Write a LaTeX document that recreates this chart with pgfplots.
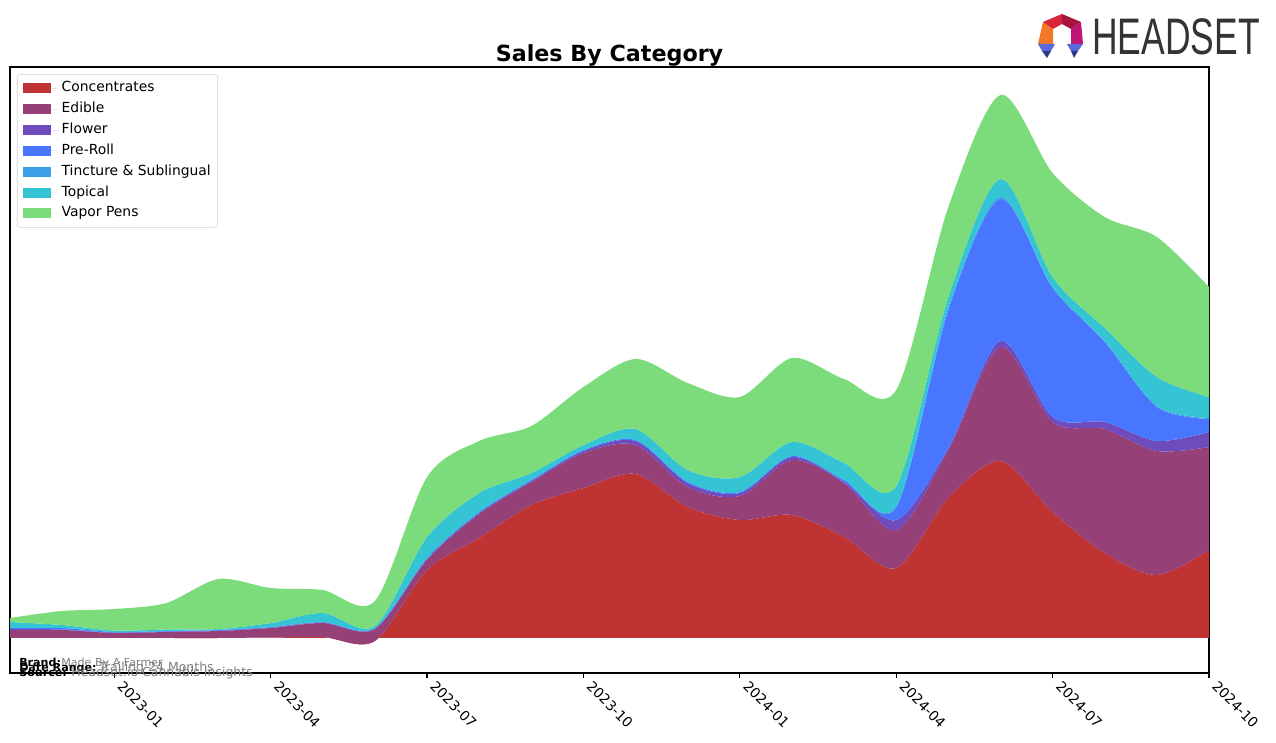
\documentclass[border=0pt]{standalone}
\usepackage{fontspec}
\setmainfont{DejaVu Sans}
\newfontfamily\logofont{Liberation Sans}
\usepackage{pgfplots}
\usepackage{pgfplotstable}
\pgfplotsset{compat=1.18}
\usepgfplotslibrary{fillbetween}

\definecolor{cConc}{RGB}{192,51,51}
\definecolor{cEdible}{RGB}{150,64,120}
\definecolor{cFlower}{RGB}{111,76,190}
\definecolor{cPreroll}{RGB}{72,118,255}
\definecolor{cTinct}{RGB}{60,160,232}
\definecolor{cTopical}{RGB}{52,196,212}
\definecolor{cVapor}{RGB}{124,220,124}
\definecolor{logogray}{RGB}{51,51,51}
\definecolor{lgA}{RGB}{240,120,40}
\definecolor{lgB}{RGB}{217,38,59}
\definecolor{lgC}{RGB}{165,22,58}
\definecolor{lgD}{RGB}{190,22,120}
\definecolor{lgE}{RGB}{90,105,220}
\definecolor{lgF}{RGB}{45,55,140}

\pgfplotsset{
  patchlegend/.style={legend image code/.code={%
    \fill[fill=#1, draw=none, sharp corners] (1.5pt,-3.6pt) rectangle (21pt,3.6pt);
    \path (0pt,0pt) -- (27pt,0pt);}},
}

% month index 0 = 2022-11 ... 23 = 2024-10
\pgfplotstableread{
i  conc  edible flower preroll tinct topical vapor
0  0     8      1      1       0     6       4
1  0     8      0.5    1.5     0     3       14
2  0     5      0.5    0.5     0     1.5     21.5
3  0     6      0.5    0.5     0     1.5     26.5
4  0     7      0.5    0.5     0     1       50
5  0.5   9.5    0.5    0.5     0     4       35
6  1     14     0.5    0.5     0     9       23
7  -3    12     0.5    0.5     0     2       25
8  68    10     1      1       0     21      60
9  100   24     1      1       0     19      52
10 133   23     1      1       0     7       47
11 150   35     2      1       0     5       58
12 164   29     4      1       0     11      70
13 131   20     4      1       0     12      87
14 118   24     3      1       0     15      80
15 123   55     3      1       0     14      84
16 101   54     1      2       0     17      84
17 70    38     10     13      1     20      96
18 140   48     2      138     3     10      90
19 177   114    6      142     2     18      84
20 126   90     5      129     1     10      104
21 85    124    7      80      1     13      111
22 63    124    10     34      1     29      140
23 88    103    15     13      1     21      110
}\salesdata

\begin{document}
\begin{tikzpicture}
\begin{axis}[
  at={(7.2pt,50.4pt)}, anchor=south west,
  scale only axis, width=863.28pt, height=436.32pt,
  xmin=0, xmax=23, ymin=-35, ymax=571,
  axis line style={line width=0.8pt},
  xtick={2,5,8,11,14,17,20,23},
  xticklabels={2023-01,2023-04,2023-07,2023-10,2024-01,2024-04,2024-07,2024-10},
  ytick=\empty,
  xtick pos=left,
  xtick align=outside,
  major tick length=3.5pt,
  tick style={black, line width=0.8pt},
  xticklabel style={xshift=7pt, rotate=-45, anchor=north west, font=\fontsize{10}{12}\selectfont, inner sep=1pt},
  title={Sales By Category},
  title style={at={(0.5,1)}, anchor=base, yshift=-2pt, font=\fontsize{16}{19}\selectfont\bfseries},
  legend cell align=left,
  legend style={at={(0.0058,0.988)}, anchor=north west, draw=black!18, rounded corners=2pt,
    font=\fontsize{10}{12}\selectfont, row sep=0pt, inner xsep=3pt, inner ysep=2.5pt,
    nodes={inner sep=2pt, text height=8pt, text depth=3pt}},
]
\addplot[draw=none, forget plot, name path=base] coordinates {(0,0) (23,0)};
\addplot[draw=none, forget plot, smooth, name path=l1] table[x=i, y=conc] {\salesdata};
\addplot[draw=none, forget plot, smooth, name path=l2] table[x=i, y expr=\thisrow{conc}+\thisrow{edible}] {\salesdata};
\addplot[draw=none, forget plot, smooth, name path=l3] table[x=i, y expr=\thisrow{conc}+\thisrow{edible}+\thisrow{flower}] {\salesdata};
\addplot[draw=none, forget plot, smooth, name path=l4] table[x=i, y expr=\thisrow{conc}+\thisrow{edible}+\thisrow{flower}+\thisrow{preroll}] {\salesdata};
\addplot[draw=none, forget plot, smooth, name path=l5] table[x=i, y expr=\thisrow{conc}+\thisrow{edible}+\thisrow{flower}+\thisrow{preroll}+\thisrow{tinct}] {\salesdata};
\addplot[draw=none, forget plot, smooth, name path=l6] table[x=i, y expr=\thisrow{conc}+\thisrow{edible}+\thisrow{flower}+\thisrow{preroll}+\thisrow{tinct}+\thisrow{topical}] {\salesdata};
\addplot[draw=none, forget plot, smooth, name path=l7] table[x=i, y expr=\thisrow{conc}+\thisrow{edible}+\thisrow{flower}+\thisrow{preroll}+\thisrow{tinct}+\thisrow{topical}+\thisrow{vapor}] {\salesdata};

\addplot[fill=cConc, draw=none, patchlegend=cConc] fill between[of=base and l1];
\addlegendentry{Concentrates}
\addplot[fill=cEdible, draw=none, patchlegend=cEdible] fill between[of=l1 and l2];
\addlegendentry{Edible}
\addplot[fill=cFlower, draw=none, patchlegend=cFlower] fill between[of=l2 and l3];
\addlegendentry{Flower}
\addplot[fill=cPreroll, draw=none, patchlegend=cPreroll] fill between[of=l3 and l4];
\addlegendentry{Pre-Roll}
\addplot[fill=cTinct, draw=none, patchlegend=cTinct] fill between[of=l4 and l5];
\addlegendentry{Tincture \& Sublingual}
\addplot[fill=cTopical, draw=none, patchlegend=cTopical] fill between[of=l5 and l6];
\addlegendentry{Topical}
\addplot[fill=cVapor, draw=none, patchlegend=cVapor] fill between[of=l6 and l7];
\addlegendentry{Vapor Pens}
\end{axis}

\begin{scope}[yshift=534.96pt, x=0.72pt, y=-0.72pt]
  % footer text
  \node[anchor=base west, inner sep=0, font=\fontsize{8}{9}\selectfont\bfseries] at (19,667) {Brand:};
  \node[anchor=base west, inner sep=0, font=\fontsize{8}{9}\selectfont, text=black!50] at (61,667) {Made By A Farmer};
  \node[anchor=base west, inner sep=0, font=\fontsize{8}{9}\selectfont\bfseries] at (19,672) {Date Range:};
  \node[anchor=base west, inner sep=0, font=\fontsize{9}{10}\selectfont, text=black!50] at (99,672) {Trailing 24 Months};
  \node[anchor=base west, inner sep=0, font=\fontsize{8}{9}\selectfont\bfseries] at (19,677) {Source:};
  \node[anchor=base west, inner sep=0, font=\fontsize{9}{10}\selectfont, text=black!50] at (71,677) {Headset.io Cannabis Insights};
  % logo
  \fill[lgA] (1038,44) -- (1043,22) -- (1053,29) -- (1053,44) -- cycle;
  \fill[lgB] (1043,22) -- (1062,14) -- (1062,24) -- (1053,29) -- cycle;
  \fill[lgC] (1062,14) -- (1081,22) -- (1071,29) -- (1062,24) -- cycle;
  \fill[lgD] (1081,22) -- (1083,44) -- (1071,44) -- (1071,29) -- cycle;
  \fill[lgE] (1038,44) -- (1055,44) -- (1051,51) -- (1042,51) -- cycle;
  \fill[lgF] (1042,51) -- (1051,51) -- (1047,58) -- cycle;
  \fill[lgE] (1067,44) -- (1083,44) -- (1078,51) -- (1071,51) -- cycle;
  \fill[lgF] (1071,51) -- (1078,51) -- (1074,58) -- cycle;
  \node[anchor=base west, inner sep=0, text=logogray, xscale=0.69] at (1092,55) {\fontsize{37}{40}\selectfont\logofont HEADSET};
\end{scope}
\pgfresetboundingbox
\path (0,0) rectangle (918.72pt,534.96pt);
\end{tikzpicture}
\end{document}
